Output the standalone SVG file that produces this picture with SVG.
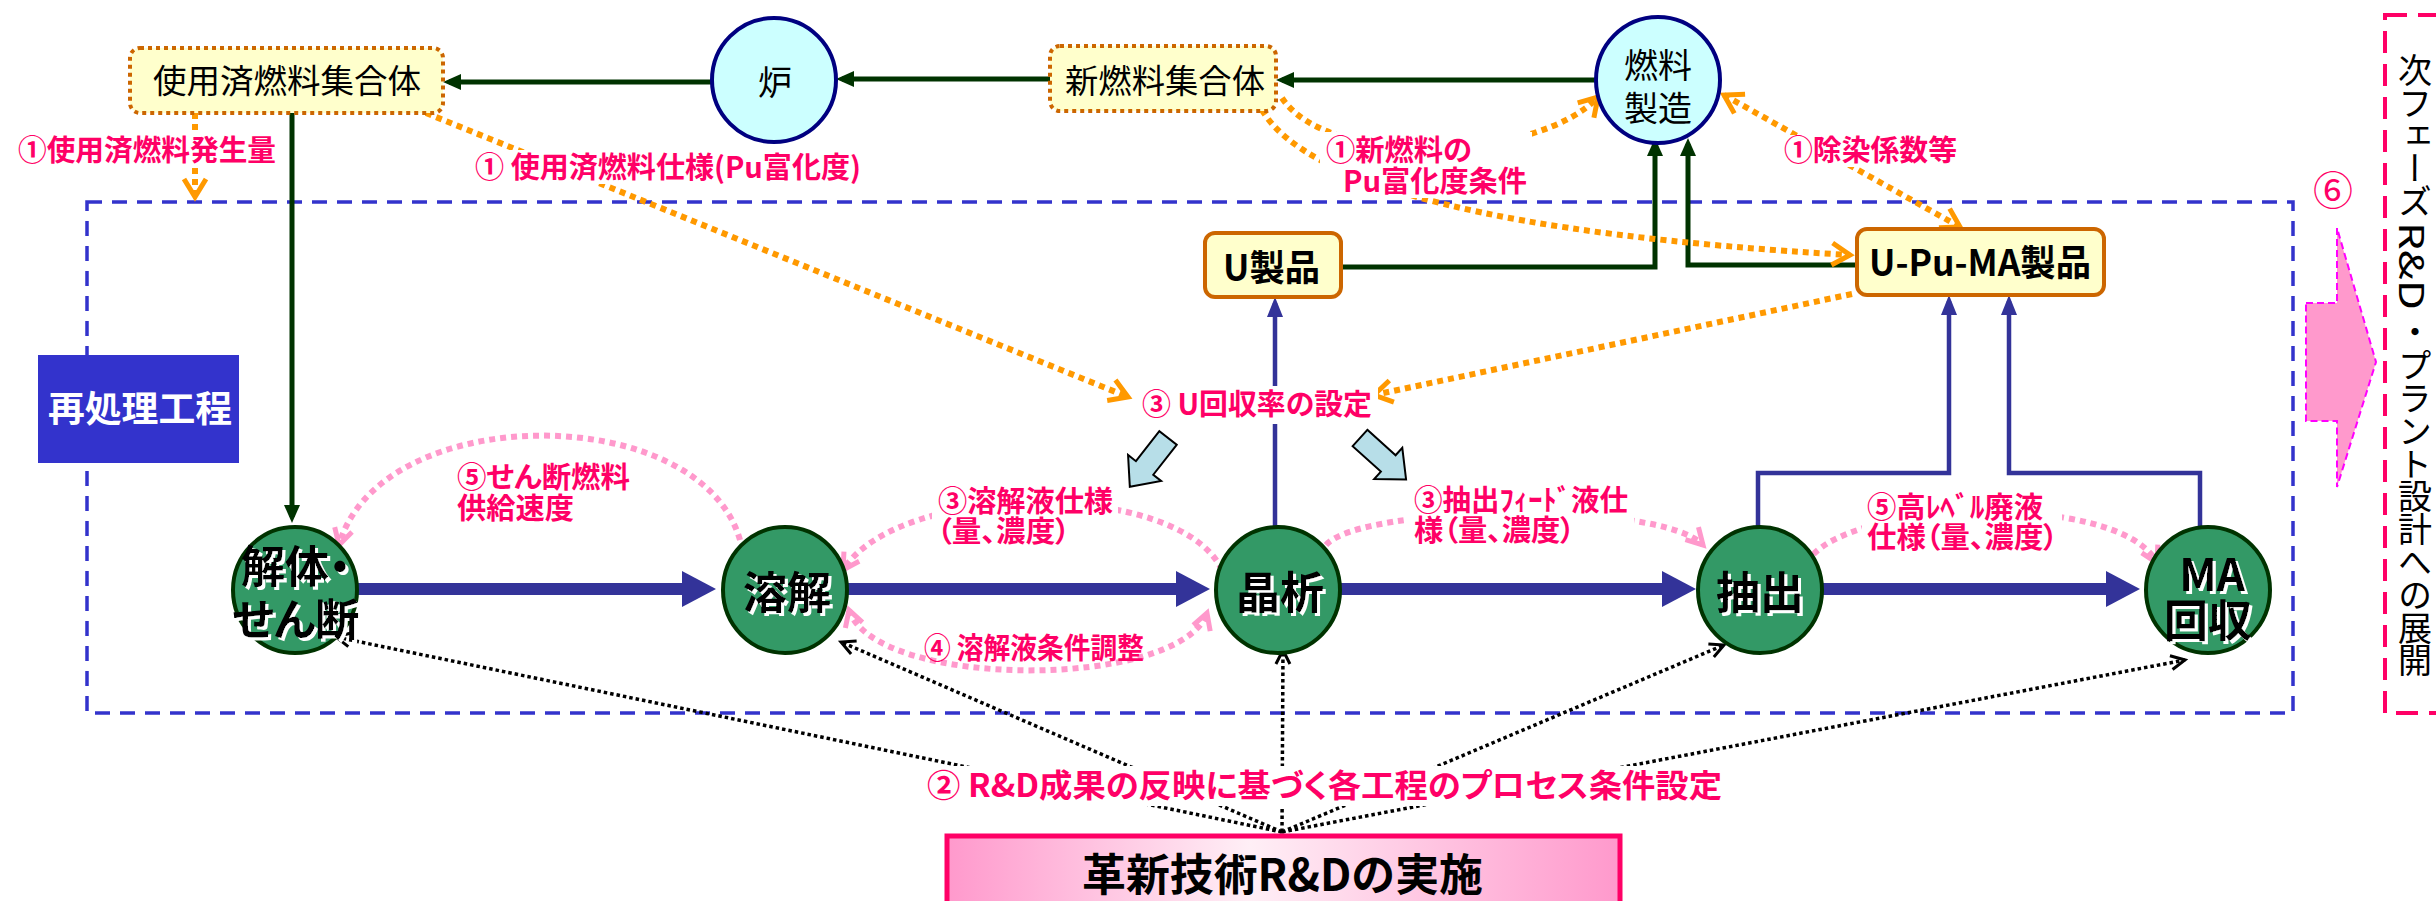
<svg xmlns="http://www.w3.org/2000/svg" width="2436" height="901" viewBox="0 0 2436 901">
<defs>
<style>
text{font-family:"Noto Sans CJK JP","Noto Sans",sans-serif;}
.lbl{font-weight:bold;fill:#FF0066;font-size:29px;font-feature-settings:"palt";}
.nd{font-size:33px;fill:#000;}
.bx{font-size:36px;font-weight:bold;fill:#000;font-feature-settings:"palt";}
.pt{font-size:44px;font-weight:bold;fill:#000;text-anchor:middle;font-feature-settings:"palt";filter:url(#wsh);}
.org{fill:none;stroke:#FF9900;stroke-width:6;stroke-dasharray:6 5;}
.pnk{fill:none;stroke:#FF99CC;stroke-width:6;stroke-dasharray:6 5;}
.blk{fill:none;stroke:#000;stroke-width:3.5;stroke-dasharray:3.5 3;}
.grn{fill:none;stroke:#003300;stroke-width:5;}
.blu{fill:none;stroke:#333399;stroke-width:4.5;}
.thk{fill:none;stroke:#333399;stroke-width:12;}
.proc{fill:#339966;stroke:#003300;stroke-width:4;}
.rx{fill:#CCFFFF;stroke:#000080;stroke-width:4;}
.fuel{fill:#FFFFCC;stroke:#CC6600;stroke-width:4;stroke-dasharray:4 4;}
.prod{fill:#FFFFCC;stroke:#CC6600;stroke-width:4;}
.wb{fill:#fff;}
.blk-arrow{fill:#B7DEE8;stroke:#000;stroke-width:2;}
.vt{font-size:34px;fill:#000;}
</style>
<filter id="wsh" x="-10%" y="-10%" width="130%" height="130%">
<feDropShadow dx="3" dy="3" stdDeviation="0" flood-color="#fff" flood-opacity="1"/>
</filter>
<linearGradient id="gR" x1="0" y1="0" x2="1" y2="0">
<stop offset="0" stop-color="#FF99CC"/>
<stop offset="0.45" stop-color="#FFEFF6"/>
<stop offset="1" stop-color="#FF99CC"/>
</linearGradient>
<marker id="mG" viewBox="0 0 18 16" refX="12" refY="8" markerWidth="18" markerHeight="16" markerUnits="userSpaceOnUse" orient="auto"><path d="M0,0 L18,8 L0,16 z" fill="#003300"/></marker>
<marker id="mB" viewBox="0 0 20 16" refX="14" refY="8" markerWidth="20" markerHeight="16" markerUnits="userSpaceOnUse" orient="auto"><path d="M0,0 L20,8 L0,16 z" fill="#333399"/></marker>
<marker id="mT" viewBox="0 0 34 36" refX="14" refY="18" markerWidth="34" markerHeight="36" markerUnits="userSpaceOnUse" orient="auto"><path d="M0,0 L34,18 L0,36 z" fill="#333399"/></marker>
<marker id="mO" viewBox="0 0 24 28" refX="21" refY="14" markerWidth="24" markerHeight="28" markerUnits="userSpaceOnUse" orient="auto-start-reverse" overflow="visible"><path d="M3,3 L21,14 L3,25" fill="none" stroke="#FF9900" stroke-width="5"/></marker>
<marker id="mP" viewBox="0 0 22 24" refX="19" refY="12" markerWidth="22" markerHeight="24" markerUnits="userSpaceOnUse" orient="auto-start-reverse" overflow="visible"><path d="M3,3 L19,12 L3,21" fill="none" stroke="#FF99CC" stroke-width="5"/></marker>
<marker id="mK" viewBox="0 0 18 18" refX="16" refY="9" markerWidth="18" markerHeight="18" markerUnits="userSpaceOnUse" orient="auto" overflow="visible"><path d="M2,2 L16,9 L2,16" fill="none" stroke="#000" stroke-width="3"/></marker>
</defs>

<rect width="2436" height="901" fill="#fff"/>

<g id="reprocessing-frame">
<rect x="87" y="202" width="2206" height="511" fill="none" stroke="#3333CC" stroke-width="3.5" stroke-dasharray="15 10"/>
</g>

<g id="next-phase-frame">
<rect x="2385" y="15" width="80" height="698" fill="none" stroke="#FF0066" stroke-width="4" stroke-dasharray="22 11"/>
</g>

<g id="connectors">
<path class="grn" d="M713,82 H449" marker-end="url(#mG)"/>
<path class="grn" d="M1050,79 H842" marker-end="url(#mG)"/>
<path class="grn" d="M1596,80 H1282" marker-end="url(#mG)"/>
<path class="grn" d="M292,113 V517" marker-end="url(#mG)"/>
<path class="grn" d="M1341,267 H1655 V144" marker-end="url(#mG)"/>
<path class="grn" d="M1857,265 H1688 V144" marker-end="url(#mG)"/>
<path class="blu" d="M1275,527 V303" marker-end="url(#mB)"/>
<path class="blu" d="M1758,527 V473 H1949 V301" marker-end="url(#mB)"/>
<path class="blu" d="M2200,527 V473 H2009 V301" marker-end="url(#mB)"/>
<path class="thk" d="M357,589 H696" marker-end="url(#mT)"/>
<path class="thk" d="M848,589 H1190" marker-end="url(#mT)"/>
<path class="thk" d="M1341,589 H1676" marker-end="url(#mT)"/>
<path class="thk" d="M1821,589 H2120" marker-end="url(#mT)"/>
<path class="org" d="M195,113 V197" marker-end="url(#mO)"/>
<path class="org" d="M426,113 L1128,397" marker-end="url(#mO)"/>
<path class="org" d="M1852,294 L1374,395" marker-end="url(#mO)"/>
<path class="org" d="M1262,110 Q1330,225 1850,255" marker-end="url(#mO)"/>
<path class="org" d="M1282,98 C1330,170 1540,160 1598,97" marker-end="url(#mO)"/>
<path class="org" d="M1724,95 L1960,227" marker-start="url(#mO)" marker-end="url(#mO)"/>
<path class="pnk" d="M740,540 C700,400 380,400 339,545" marker-end="url(#mP)"/>
<path class="pnk" d="M1222,570 C1180,480 900,480 843,570" marker-end="url(#mP)"/>
<path class="pnk" d="M1326,545 C1360,505 1660,500 1703,545" marker-end="url(#mP)"/>
<path class="pnk" d="M1807,563 C1840,500 2120,490 2157,563" marker-end="url(#mP)"/>
<path class="pnk" d="M849,610 C875,690 1180,690 1207,613" marker-start="url(#mP)" marker-end="url(#mP)"/>
<path class="blk" d="M1282,832 L336,637" marker-end="url(#mK)"/>
<path class="blk" d="M1282,832 L841,642" marker-end="url(#mK)"/>
<path class="blk" d="M1282,832 L1283,650" marker-end="url(#mK)"/>
<path class="blk" d="M1282,832 L1724,645" marker-end="url(#mK)"/>
<path class="blk" d="M1282,832 L2185,660" marker-end="url(#mK)"/>
<path class="blk-arrow" transform="translate(1168,438) rotate(128)" d="M0,-11 L38,-11 L38,-21 L62,0 L38,21 L38,11 L0,11 Z"/>
<path class="blk-arrow" transform="translate(1360,438) rotate(42)" d="M0,-11 L38,-11 L38,-21 L62,0 L38,21 L38,11 L0,11 Z"/>
</g>

<g id="labels">
<rect class="wb" x="15" y="135" width="265" height="32"/>
<text class="lbl" x="18" y="161" textLength="258" lengthAdjust="spacingAndGlyphs">①使用済燃料発生量</text>
<rect class="wb" x="470" y="150" width="396" height="34"/>
<text class="lbl" x="475" y="178" textLength="386" lengthAdjust="spacingAndGlyphs">① 使用済燃料仕様(Pu富化度)</text>
<rect class="wb" x="1320" y="132" width="212" height="66"/>
<text class="lbl"><tspan x="1326" y="161" textLength="146" lengthAdjust="spacingAndGlyphs">①新燃料の</tspan><tspan x="1343" y="192" textLength="184" lengthAdjust="spacingAndGlyphs">Pu富化度条件</tspan></text>
<rect class="wb" x="1780" y="135" width="182" height="32"/>
<text class="lbl" x="1784" y="161" textLength="173" lengthAdjust="spacingAndGlyphs">①除染係数等</text>
<text x="2333" y="205" font-size="40" fill="#FF0066" text-anchor="middle">⑥</text>
<rect class="wb" x="1136" y="386" width="242" height="38"/>
<text class="lbl" x="1142" y="415" textLength="230" lengthAdjust="spacingAndGlyphs">③ U回収率の設定</text>
<text class="lbl"><tspan x="457" y="488" textLength="173" lengthAdjust="spacingAndGlyphs">⑤せん断燃料</tspan><tspan x="457" y="519" textLength="117" lengthAdjust="spacingAndGlyphs">供給速度</tspan></text>
<rect class="wb" x="932" y="484" width="186" height="64"/>
<text class="lbl"><tspan x="938" y="512" textLength="175" lengthAdjust="spacingAndGlyphs">③溶解液仕様</tspan><tspan x="937" y="542" textLength="133" lengthAdjust="spacingAndGlyphs">（量、濃度）</tspan></text>
<rect class="wb" x="1408" y="483" width="226" height="64"/>
<text class="lbl"><tspan x="1414" y="511" textLength="214" lengthAdjust="spacingAndGlyphs">③抽出ﾌｨｰﾄﾞ液仕</tspan><tspan x="1414" y="541" textLength="161" lengthAdjust="spacingAndGlyphs">様（量、濃度）</tspan></text>
<rect class="wb" x="1862" y="490" width="200" height="64"/>
<text class="lbl"><tspan x="1867" y="518" textLength="176" lengthAdjust="spacingAndGlyphs">⑤高ﾚﾍﾞﾙ廃液</tspan><tspan x="1867" y="548" textLength="191" lengthAdjust="spacingAndGlyphs">仕様（量、濃度）</tspan></text>
<text class="lbl" x="924" y="659" textLength="220" lengthAdjust="spacingAndGlyphs">④ 溶解液条件調整</text>
<rect class="wb" x="920" y="766" width="808" height="40"/>
<text class="lbl" x="927" y="797" style="font-size:32px" textLength="795" lengthAdjust="spacingAndGlyphs">② R&amp;D成果の反映に基づく各工程のプロセス条件設定</text>
</g>

<g id="node-spent-fuel">
<rect class="fuel" x="130" y="48" width="313" height="65" rx="10"/>
<text class="nd" x="153" y="93" textLength="268" lengthAdjust="spacingAndGlyphs">使用済燃料集合体</text>
</g>

<g id="node-reactor">
<ellipse class="rx" cx="774" cy="80" rx="62" ry="62"/>
<text x="775" y="95" font-size="34" text-anchor="middle">炉</text>
</g>

<g id="node-new-fuel">
<rect class="fuel" x="1050" y="46" width="226" height="65" rx="10"/>
<text class="nd" x="1065" y="93" textLength="200" lengthAdjust="spacingAndGlyphs">新燃料集合体</text>
</g>

<g id="node-fuel-fab">
<ellipse class="rx" cx="1658" cy="80" rx="62" ry="63"/>
<text font-size="34" text-anchor="middle"><tspan x="1658" y="78">燃料</tspan><tspan x="1658" y="121">製造</tspan></text>
</g>

<g id="node-u-product">
<rect class="prod" x="1205" y="233" width="136" height="64" rx="10"/>
<text class="bx" x="1223" y="281" textLength="97" lengthAdjust="spacingAndGlyphs">U製品</text>
</g>

<g id="node-upuma-product">
<rect class="prod" x="1857" y="229" width="247" height="66" rx="10"/>
<text class="bx" x="1869" y="276" textLength="222" lengthAdjust="spacingAndGlyphs">U-Pu-MA製品</text>
</g>

<g id="node-reprocessing-title">
<rect x="38" y="355" width="201" height="108" fill="#3333CC"/>
<text x="48" y="422" font-size="36" font-weight="bold" fill="#fff" textLength="184" lengthAdjust="spacingAndGlyphs">再処理工程</text>
</g>

<g id="node-shear">
<ellipse class="proc" cx="295" cy="590" rx="62" ry="63"/>
<text class="pt"><tspan x="296" y="583">解体・</tspan><tspan x="296" y="636">せん断</tspan></text>
</g>

<g id="node-dissolution">
<ellipse class="proc" cx="785" cy="590" rx="62" ry="63"/>
<text class="pt" x="787" y="609">溶解</text>
</g>

<g id="node-crystallization">
<ellipse class="proc" cx="1278" cy="590" rx="62" ry="63"/>
<text class="pt" x="1280" y="609">晶析</text>
</g>

<g id="node-extraction">
<ellipse class="proc" cx="1760" cy="590" rx="62" ry="63"/>
<text class="pt" x="1760" y="609">抽出</text>
</g>

<g id="node-ma-recovery">
<ellipse class="proc" cx="2208" cy="590" rx="62" ry="63"/>
<text class="pt"><tspan x="2212" y="591">MA</tspan><tspan x="2208" y="637">回収</tspan></text>
</g>

<g id="node-rd">
<rect x="947" y="836" width="673" height="80" fill="url(#gR)" stroke="#FF0066" stroke-width="5"/>
<text x="1082" y="891" font-size="44" font-weight="bold" fill="#000" textLength="401" lengthAdjust="spacingAndGlyphs">革新技術R&amp;Dの実施</text>
</g>

<g id="node-next-phase">
<polygon points="2306,303 2337,303 2337,228 2376,362 2337,487 2337,421 2306,421" fill="#FF99CC" stroke="#FF00FF" stroke-width="2" stroke-dasharray="7 4"/>
<text class="vt" x="2415" y="53 85.8 118.6 151.4 184.2" style="writing-mode:vertical-rl">次フェーズ</text>
<text class="vt" transform="translate(2399,222) rotate(90)" textLength="88" lengthAdjust="spacingAndGlyphs">R&amp;D</text>
<text class="vt" x="2415" y="315.4 348.2 381 413.8 446.6 479.4 512.2 545 577.8 610.6 643.4" style="writing-mode:vertical-rl">・プラント設計への展開</text>
</g>
</svg>
